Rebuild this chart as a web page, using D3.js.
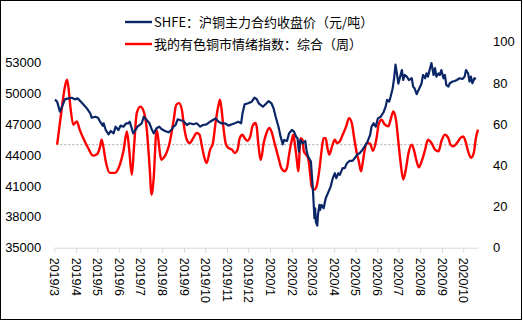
<!DOCTYPE html>
<html><head><meta charset="utf-8">
<script src="https://cdn.jsdelivr.net/npm/d3@7"></script>
<style>
html,body{margin:0;padding:0;background:#fff;}
svg{display:block;}
</style></head>
<body>
<svg id="c" width="523" height="321"></svg>
<script>
const priceDates = ["2019-03-02","2019-03-05","2019-03-09","2019-03-13","2019-03-16","2019-03-21","2019-03-26","2019-03-30","2019-04-03","2019-04-06","2019-04-11","2019-04-16","2019-04-21","2019-04-23","2019-04-28","2019-05-02","2019-05-05","2019-05-09","2019-05-10","2019-05-13","2019-05-17","2019-05-20","2019-05-24","2019-05-27","2019-05-31","2019-06-03","2019-06-07","2019-06-11","2019-06-14","2019-06-16","2019-06-20","2019-06-21","2019-06-27","2019-07-03","2019-07-06","2019-07-10","2019-07-14","2019-07-17","2019-07-20","2019-07-24","2019-07-28","2019-07-31","2019-08-05","2019-08-10","2019-08-14","2019-08-17","2019-08-20","2019-08-23","2019-08-26","2019-08-31","2019-09-05","2019-09-09","2019-09-14","2019-09-19","2019-09-24","2019-09-28","2019-10-03","2019-10-08","2019-10-12","2019-10-16","2019-10-20","2019-10-24","2019-10-29","2019-11-03","2019-11-08","2019-11-12","2019-11-17","2019-11-21","2019-11-23","2019-11-26","2019-12-01","2019-12-06","2019-12-10","2019-12-13","2019-12-16","2019-12-20","2019-12-22","2019-12-27","2019-12-30","2020-01-03","2020-01-06","2020-01-09","2020-01-13","2020-01-16","2020-01-19","2020-01-21","2020-01-25","2020-01-28","2020-02-01","2020-02-04","2020-02-07","2020-02-09","2020-02-11","2020-02-13","2020-02-16","2020-02-20","2020-02-22","2020-02-24","2020-02-28","2020-02-29","2020-03-02","2020-03-04","2020-03-05","2020-03-06","2020-03-08","2020-03-09","2020-03-11","2020-03-12","2020-03-14","2020-03-17","2020-03-20","2020-03-24","2020-03-27","2020-03-30","2020-04-02","2020-04-04","2020-04-07","2020-04-09","2020-04-13","2020-04-16","2020-04-19","2020-04-23","2020-04-27","2020-04-30","2020-05-04","2020-05-07","2020-05-11","2020-05-15","2020-05-18","2020-05-22","2020-05-24","2020-05-27","2020-05-30","2020-06-02","2020-06-06","2020-06-10","2020-06-13","2020-06-15","2020-06-18","2020-06-20","2020-06-23","2020-06-25","2020-06-27","2020-06-29","2020-07-01","2020-07-03","2020-07-06","2020-07-08","2020-07-10","2020-07-13","2020-07-16","2020-07-20","2020-07-22","2020-07-24","2020-07-27","2020-07-29","2020-08-01","2020-08-03","2020-08-05","2020-08-08","2020-08-10","2020-08-12","2020-08-15","2020-08-17","2020-08-20","2020-08-22","2020-08-24","2020-08-27","2020-08-29","2020-08-31","2020-09-03","2020-09-05","2020-09-07","2020-09-10","2020-09-12","2020-09-16","2020-09-19","2020-09-22","2020-09-26","2020-09-30","2020-10-03","2020-10-05","2020-10-08","2020-10-10","2020-10-12","2020-10-14","2020-10-17","2020-10-19"];
const priceValues = [49400,49180,48200,48860,49400,49500,49560,49400,49500,49300,48920,48540,48050,47620,47720,47620,47230,46820,47080,46430,46000,46330,46100,46750,46430,46850,46750,47080,47080,47230,46320,46100,46750,47080,47720,47400,47080,46530,46100,46590,46750,46530,46330,46200,46430,46750,46910,47470,47400,47300,46910,47080,46980,47080,46750,46910,46980,47230,47400,47560,47230,47080,47080,46850,46980,47080,47230,47080,48050,48920,49020,49180,49560,49440,49020,48790,48690,49020,49240,49020,48540,47720,46750,45780,45040,45460,45360,46100,46430,46270,45780,45620,44330,45460,45140,45360,44330,43840,43360,42390,40450,37860,38830,37530,37140,38180,39150,38670,39150,38830,39800,40450,40930,41750,42230,41750,42230,42070,42720,42720,43200,43430,43430,43680,44070,44170,44490,44910,45240,45950,46750,47080,46750,47560,47720,48150,48690,49350,49180,49660,50480,51450,52780,51900,50930,51450,52250,51280,51770,51610,51280,51450,50640,50480,49900,50220,50640,50970,51770,51450,51930,51610,52430,52920,51770,52430,51610,51930,51770,52250,51450,51770,50800,50640,50970,51130,51190,51280,51450,51380,51610,52250,51930,51130,51610,50970,51450,51380];

const sentDates = ["2019-03-05","2019-03-11","2019-03-16","2019-03-19","2019-03-21","2019-03-24","2019-03-28","2019-04-02","2019-04-06","2019-04-11","2019-04-18","2019-04-25","2019-04-30","2019-05-05","2019-05-07","2019-05-09","2019-05-13","2019-05-19","2019-05-26","2019-06-02","2019-06-07","2019-06-12","2019-06-15","2019-06-19","2019-06-22","2019-06-26","2019-07-01","2019-07-05","2019-07-10","2019-07-14","2019-07-17","2019-07-20","2019-07-24","2019-07-31","2019-08-03","2019-08-08","2019-08-12","2019-08-17","2019-08-21","2019-08-25","2019-08-29","2019-09-01","2019-09-05","2019-09-09","2019-09-14","2019-09-19","2019-09-23","2019-09-26","2019-09-30","2019-10-03","2019-10-08","2019-10-12","2019-10-16","2019-10-20","2019-10-22","2019-10-24","2019-10-27","2019-10-30","2019-11-03","2019-11-08","2019-11-12","2019-11-16","2019-11-19","2019-11-23","2019-11-26","2019-11-30","2019-12-04","2019-12-07","2019-12-11","2019-12-13","2019-12-15","2019-12-19","2019-12-23","2019-12-27","2019-12-31","2020-01-03","2020-01-08","2020-01-13","2020-01-17","2020-01-22","2020-01-25","2020-01-28","2020-02-01","2020-02-03","2020-02-05","2020-02-08","2020-02-10","2020-02-11","2020-02-13","2020-02-16","2020-02-18","2020-02-21","2020-02-24","2020-02-27","2020-02-29","2020-03-04","2020-03-07","2020-03-11","2020-03-14","2020-03-17","2020-03-20","2020-03-22","2020-03-25","2020-03-29","2020-04-02","2020-04-05","2020-04-09","2020-04-13","2020-04-18","2020-04-22","2020-04-26","2020-04-29","2020-05-03","2020-05-06","2020-05-09","2020-05-11","2020-05-14","2020-05-17","2020-05-22","2020-05-26","2020-05-31","2020-06-03","2020-06-07","2020-06-12","2020-06-17","2020-06-20","2020-06-24","2020-06-28","2020-07-01","2020-07-04","2020-07-08","2020-07-12","2020-07-15","2020-07-20","2020-07-23","2020-07-27","2020-07-30","2020-08-03","2020-08-08","2020-08-12","2020-08-17","2020-08-22","2020-08-27","2020-08-31","2020-09-05","2020-09-10","2020-09-13","2020-09-17","2020-09-22","2020-09-27","2020-10-01","2020-10-05","2020-10-08","2020-10-12","2020-10-16","2020-10-19","2020-10-22"];
const sentValues = [50,66,78,81.5,78,67.8,59.7,61.3,57.3,53.2,48.4,44.7,45.2,49.2,52.4,50,41.9,36.3,36.3,40.3,46.8,56.4,48.4,35.5,48.4,65.3,68.5,66.9,58.1,40.3,25.8,33.9,57,42.7,43.6,46.8,51.6,61.3,69.4,70.2,66.9,58.9,52.4,50.8,53.2,55.7,54.8,50,43.6,41.1,47.6,50.8,61.3,69.4,71.8,67.8,58.1,50.8,48.4,47.6,46,47.6,53.2,54.8,53.2,51.9,54,58.9,60.5,58.9,51.6,42.7,50.8,55.7,58.1,56.4,50,43.6,38.7,37.1,38.7,45.2,52.4,54.8,50.8,42.7,37.1,40.3,53.2,52.4,46.8,45.2,43.6,35.5,29.8,28.2,29.8,37.9,46.8,53.2,53.2,49.2,45.2,49.2,52.4,50.8,51.6,54.8,58.9,62.9,60.5,54,46,41.9,37.1,40.3,46.8,50.8,50.5,47,53,59.7,62.1,59.7,58.9,62.1,66.1,61.3,51.6,41.9,33.1,38.7,45.2,50,47.6,41.9,39,41.9,47.6,52.4,50.8,47.6,46.8,51.6,54.8,53.2,50,49.2,50.8,53.2,54,50.8,46.8,43.6,46,53.2,57.3];

const monthTicks = ["2019-03-01","2019-04-01","2019-05-01","2019-06-01","2019-07-01","2019-08-01","2019-09-01","2019-10-01","2019-11-01","2019-12-01","2020-01-01","2020-02-01","2020-03-01","2020-04-01","2020-05-01","2020-06-01","2020-07-01","2020-08-01","2020-09-01","2020-10-01"];
const leftTicks = [35000,38000,41000,44000,47000,50000,53000];
const rightTicks = [0,20,40,60,80,100];
const legendLabels = ["SHFE：沪铜主力合约收盘价（元/吨）","我的有色铜市情绪指数：综合（周）"];
const refLevel = 50;

const parse = d3.utcParse("%Y-%m-%d");
const price = priceDates.map((d,i)=>({date:parse(d), v:priceValues[i]}));
const sent = sentDates.map((d,i)=>({date:parse(d), v:sentValues[i]}));

const svg = d3.select("#c");
const L=54.3, R=478, T=41.7, B=247.7;
const x = d3.scaleUtc().domain([parse("2019-03-01"), parse("2020-10-22")]).range([L,R]);
const yL = d3.scaleLinear().domain([35000,55000]).range([B,T]);
const yR = d3.scaleLinear().domain([0,100]).range([B,T]);
const numFont = "Liberation Sans, Arial, sans-serif";
const cjkFont = "'Noto Sans CJK SC', sans-serif";

// border
svg.append("rect").attr("x",0.5).attr("y",0.5).attr("width",521).attr("height",319)
  .attr("fill","#fff").attr("stroke","#000").attr("stroke-width",1);

// reference line at 50
svg.append("line").attr("x1",L+2).attr("x2",R).attr("y1",yR(refLevel)).attr("y2",yR(refLevel))
  .attr("stroke","#a6a6a6").attr("stroke-width",1).attr("stroke-dasharray","2,2");

// x axis
const xAxis = d3.axisBottom(x).tickValues(monthTicks.map(parse)).tickFormat(d3.utcFormat("%Y/%-m")).tickSize(5).tickSizeOuter(0);
const gx = svg.append("g").attr("transform",`translate(0,${B})`).call(xAxis);
gx.select(".domain").attr("stroke","#d9d9d9");
gx.selectAll(".tick line").attr("stroke","#d9d9d9");
gx.selectAll(".tick text").attr("font-family",numFont).attr("font-size",12.5).attr("fill","#000")
  .attr("transform","rotate(90)").attr("text-anchor","start").attr("x",10).attr("y",0).attr("dy","0.35em");

// left axis
const gl = svg.append("g").attr("transform",`translate(${L},0)`)
  .call(d3.axisLeft(yL).tickValues(leftTicks).tickFormat(d3.format("d")).tickSize(0).tickPadding(13));
gl.select(".domain").remove();
gl.selectAll("text").attr("font-family",numFont).attr("font-size",13).attr("fill","#000");

// right axis
const gr = svg.append("g").attr("transform",`translate(${R},0)`)
  .call(d3.axisRight(yR).tickValues(rightTicks).tickFormat(d3.format("d")).tickSize(0).tickPadding(15));
gr.select(".domain").remove();
gr.selectAll("text").attr("font-family",numFont).attr("font-size",13).attr("fill","#000");

// lines
const priceLine = d3.line().x(d=>x(d.date)).y(d=>yL(d.v));
const sentLine = d3.line().x(d=>x(d.date)).y(d=>yR(d.v)).curve(d3.curveMonotoneX);
svg.append("path").datum(sent).attr("d",sentLine).attr("fill","none").attr("stroke","#ff0000").attr("stroke-width",2.4);
svg.append("path").datum(price).attr("d",priceLine).attr("fill","none").attr("stroke","#0b2667").attr("stroke-width",2.2).attr("stroke-linejoin","round");

// legend
const colors = ["#0b2667","#ff0000"];
legendLabels.forEach((t,i)=>{
  const y = 22 + i*22;
  svg.append("line").attr("x1",125).attr("x2",152).attr("y1",y).attr("y2",y).attr("stroke",colors[i]).attr("stroke-width",2.4);
  svg.append("text").attr("x",154).attr("y",y).attr("dy","0.35em").attr("font-family",cjkFont).attr("font-size",13).attr("fill","#000").text(t);
});
</script>
</body></html>
